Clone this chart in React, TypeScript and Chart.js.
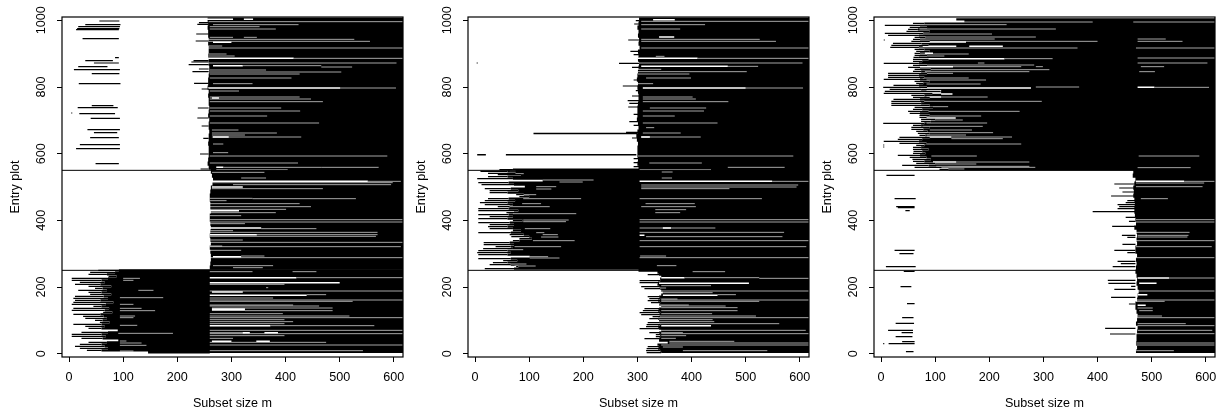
import React, { useEffect, useRef } from "react";
import { Chart, registerables } from "chart.js";

Chart.register(...registerables);

type Row = [number, number, number];
type Edge = [number, number];

const xTickValues = [0, 100, 200, 300, 400, 500, 600];
const yTickValues = [0, 200, 400, 600, 800, 1000];
const xLabel = "Subset size m";
const yLabel = "Entry plot";
const XMAX = 617;

// ---------- panel 1 ----------
const p1Dividers: Row[] = [[550, -13, XMAX], [250, -13, XMAX]];
const p1Band: Edge[] = [
  [1002,256],[990,257],[978,256],[966,257],[954,257],[942,258],[930,257],[918,258],[906,258],[894,257],[882,258],[870,258],[858,259],[846,259],[834,258],[822,257],[810,257],[798,256],[786,258],[774,257],[762,258],[750,258],[738,259],[726,258],[714,257],[702,259],[690,258],[678,258],[666,259],[654,258],[642,258],[630,257],[618,258],[606,258],[594,258],[582,257],[570,256],[558,258],[546,262],[534,264],[522,266],[510,265],[498,262],[486,261],[474,260],[462,260],[450,261],[438,261],[426,262],[414,260],[402,260],[390,261],[378,262],[366,261],[354,260],[342,261],[330,262],[318,260],[306,261],[294,262],[282,262],[270,261],[258,260]
];
const p1Block: Edge[] = [
  [250,92],[244,85],[238,70],[232,88],[226,72],[220,60],[214,66],[208,58],[202,78],[196,62],[190,70],[184,60],[178,78],[172,64],[166,72],[160,58],[154,82],[148,68],[142,60],[136,74],[130,66],[124,80],[118,58],[112,64],[106,70],[100,62],[94,75],[88,60],[82,66],[76,60],[70,90],[64,72],[58,60],[52,68],[46,62],[40,91],[34,70],[28,60],[22,66],[16,72],[10,60],[4,146]
];
const p1Spikes: Row[] = [
  [250,54,92],[244,39,85],[238,36,70],[232,73,88],[226,5,72],[220,5,60],[214,20,66],[208,11,58],[202,36,78],[196,48,62],[190,17,70],[184,36,60],[178,39,78],[172,11,64],[166,8,72],[160,11,58],[154,8,82],[148,5,68],[142,45,60],[136,8,74],[130,5,66],[124,63,80],[118,8,58],[112,26,64],[106,30,70],[100,48,62],[94,57,75],[88,8,60],[82,30,66],[76,36,60],[64,23,72],[58,5,60],[52,5,68],[46,23,62],[34,36,70],[28,20,60],[22,11,66],[16,20,72],[10,33,60]
];
const p1Thin: Row[] = [
  [998,56,93],[987,30,95],[981,17,94],[975,15,93],[972,13,92],[945,25,92],[888,85,92],[879,30,81],[872,46,92],[861,17,71],[852,9,94],[840,42,93],[810,18,95],[744,42,82],[738,16,90],[722,4,6],[720,19,85],[706,40,94],[672,34,94],[663,46,89],[648,39,92],[627,20,94],[615,13,94],[570,49,92],
  [993,240,258],[988,237,258],[959,235,258],[938,234,258],[879,230,258],[875,226,258],[867,221,258],[854,240,258],[846,228,258],[811,231,258],[794,245,258],[737,238,258],[707,237,258],[683,245,258],[646,248,258],[599,242,258],[554,243,258]
];
const p1GapThin: Row[] = [
  [996,258,617],[987,266,424],[981,260,352],[974,260,382],[949,260,303],[949,323,347],[943,257,527],[937,257,556],[923,257,283],[917,257,617],[899,257,291],[893,257,306],[886,415,617],[872,257,605],[864,321,466],[860,466,523],[851,260,364],[845,260,503],[839,260,426],[827,260,411],[810,266,339],[797,501,604],[788,260,314],[770,260,426],[764,260,447],[756,260,469],[737,260,392],[728,260,427],[713,260,366],[692,260,462],[671,264,313],[662,264,384],[656,264,325],[650,264,429],[629,266,285],[603,266,294],[593,260,588],[572,260,423],[559,285,466],[559,466,572],[552,272,404],
  [544,264,361],[527,318,364],[517,552,613],[513,264,598],[507,303,595],[495,264,469],[466,260,339],[465,339,530],[459,260,291],[450,260,426],[441,260,447],[433,260,401],[423,260,382],[414,260,318],[402,260,617],[395,260,617],[390,260,325],[375,355,457],[369,260,303],[364,260,570],[357,347,570],[352,260,567],[341,260,321],[334,260,617],[323,260,283],[321,260,613],[310,260,318],[293,318,361],[288,260,617],[264,266,377],[258,303,358],
  [246,413,457],[246,260,339],[228,420,617],[208,260,398],[198,364,368],[188,260,617],[177,439,475],[167,260,377],[161,260,617],[157,260,524],[146,260,414],[143,260,462],[137,264,487],[129,325,487],[120,260,395],[113,260,518],[108,260,617],[102,260,398],[96,260,414],[90,260,398],[84,372,564],[70,260,617],[63,260,325],[60,260,617],[54,260,398],[46,260,303],[34,260,475],[26,260,617],[9,260,543],
  [226,100,131],[220,100,119],[190,128,156],[168,94,174],[148,94,119],[136,94,134],[129,94,159],[113,94,122],[108,94,119],[85,94,126],[61,91,192],[38,94,106],[32,94,134],[25,94,143],[8,94,119]
];
const p1GapWide: Row[] = [
  [1003,255,303],[1003,323,340],[934,266,300],[886,257,415],[864,266,321],[797,257,501],[767,264,277],[650,266,295],[559,272,285],[517,264,552],[500,264,321],[429,260,314],[377,260,355],[357,260,347],[291,266,318],[228,260,420],[213,260,500],[185,264,321],[175,260,439],[134,264,325],[131,264,325],[84,260,372],[63,321,334],[63,361,386],[37,264,300],[37,346,371],[0,260,617]
];

// ---------- panel 2 ----------
const p2Dividers: Row[] = [[550, -13, XMAX], [250, -13, XMAX]];
const p2Band: Edge[] = [
  [1002,303],[990,302],[978,300],[966,302],[954,301],[942,303],[930,302],[918,304],[906,301],[894,302],[882,301],[870,303],[858,302],[846,301],[834,300],[822,299],[810,301],[798,300],[786,301],[774,302],[762,302],[750,301],[738,300],[726,300],[714,300],[702,299],[690,301],[678,302],[666,300],[654,298],[642,299],[630,301],[618,300],[606,300],[594,300],[582,301],[570,300],[558,302]
];
const p2Block: Edge[] = [
  [552,70],[547,60],[541,75],[537,85],[531,60],[525,70],[519,125],[513,62],[507,72],[501,92],[495,66],[489,80],[483,60],[477,90],[471,100],[465,62],[459,74],[453,60],[447,70],[441,64],[435,62],[429,80],[423,72],[417,62],[411,70],[405,60],[399,88],[393,64],[387,72],[381,60],[375,70],[369,85],[363,66],[357,90],[351,100],[345,105],[339,82],[333,64],[327,72],[321,66],[315,70],[309,60],[303,66],[297,60],[291,101],[285,66],[279,78],[273,60],[267,66],[261,80],[255,72],
  [249,302],[243,337],[237,340],[231,344],[225,342],[219,342],[213,338],[207,337],[201,340],[195,342],[189,344],[183,347],[177,344],[171,340],[165,342],[159,338],[153,342],[147,340],[141,344],[135,340],[129,338],[123,342],[117,340],[111,342],[105,338],[99,340],[93,340],[87,342],[81,338],[75,340],[69,344],[63,340],[57,342],[51,342],[45,340],[39,340],[33,356],[27,337],[21,340],[15,338],[9,342],[3,344]
];
const p2Spikes: Row[] = [
  [552,45,70],[547,10,60],[541,24,75],[537,42,85],[531,24,60],[525,4,70],[513,6,62],[507,12,72],[495,18,66],[489,27,80],[483,27,60],[477,76,90],[471,82,100],[465,24,62],[459,18,74],[453,9,60],[447,18,70],[441,42,64],[435,6,62],[429,6,80],[423,58,72],[417,6,62],[411,27,70],[405,6,60],[399,70,88],[393,6,64],[387,27,72],[381,24,60],[375,27,70],[369,70,85],[363,6,66],[357,64,90],[351,67,100],[345,82,105],[339,70,82],[333,16,64],[327,16,72],[321,38,66],[315,15,70],[309,6,60],[303,4,66],[297,6,60],[285,6,66],[279,52,78],[273,33,60],[267,27,66],[261,76,80],[255,18,72],
  [237,319,340],[219,304,342],[213,304,338],[201,307,340],[195,313,342],[171,319,340],[165,322,342],[159,319,338],[153,325,342],[135,313,340],[129,310,338],[123,304,342],[117,307,340],[111,328,342],[105,322,338],[93,319,340],[87,317,342],[81,316,338],[75,304,340],[63,322,340],[57,334,342],[51,334,342],[45,313,340],[21,319,340],[15,317,338],[9,316,342],[3,317,344]
];
const p2Thin: Row[] = [
  [872,3,5],[661,108,300],[660,108,300],[596,57,298],[597,57,298],[596,4,20],[597,4,20],
  [999,297,303],[989,294,303],[941,283,303],[907,287,303],[897,293,303],[871,266,303],[859,290,303],[821,293,303],[803,273,303],[789,297,303],[773,290,303],[759,282,303],[751,285,303],[740,283,303],[718,293,303],[696,285,303],[685,293,303],[664,279,303],[647,290,303],[585,293,303],[573,293,303],[561,293,303]
];
const p2GapThin: Row[] = [
  [997,307,617],[987,307,425],[974,307,379],[943,307,526],[937,307,556],[917,307,617],[892,334,350],[886,411,617],[872,301,605],[862,467,523],[853,301,344],[846,301,502],[839,301,396],[827,316,399],[810,301,329],[797,500,606],[770,310,402],[764,310,408],[756,310,468],[737,323,427],[728,310,423],[713,310,369],[692,310,448],[678,316,331],[662,310,380],[650,307,417],[593,301,588],[572,322,419],[559,467,572],[552,304,436],
  [545,345,365],[527,345,364],[517,549,617],[506,307,597],[500,307,594],[495,307,470],[465,304,530],[450,315,406],[441,307,408],[432,333,390],[423,333,379],[402,304,617],[395,304,617],[377,304,444],[364,304,571],[351,316,568],[339,304,617],[321,304,612],[293,305,353],[288,304,617],[264,336,372],
  [549,64,75],[540,39,90],[521,125,219],[515,156,199],[501,113,150],[494,113,141],[477,76,113],[465,89,196],[450,87,122],[441,42,138],[420,70,187],[401,89,173],[396,89,168],[375,92,139],[363,113,128],[357,125,153],[350,122,154],[339,107,184],[321,73,159],[312,39,89],[291,101,135],[287,101,156],[269,42,95],[263,73,112],
  [246,402,462],[228,387,525],[226,525,617],[204,344,436],[197,322,353],[188,344,617],[183,347,439],[177,448,482],[164,344,374],[161,344,617],[157,344,525],[146,340,395],[143,344,463],[138,344,485],[129,344,485],[120,344,438],[113,334,519],[108,334,617],[102,340,439],[96,340,442],[90,340,562],[70,344,611],[63,344,384],[60,344,617],[54,344,390],[46,344,371],[37,359,479],[32,359,617],[26,344,617],[20,347,384],[9,384,540]
];
const p2GapWide: Row[] = [
  [1002,329,369],[950,340,368],[886,301,411],[862,307,467],[797,310,500],[650,307,323],[517,304,549],[355,304,313],[377,347,362],[228,344,387],[211,340,506],[175,347,448],[84,344,436],[0,317,617]
];

// ---------- panel 3 ----------
const p3Dividers: Row[] = [[550, -13, XMAX], [250, -13, XMAX], [553, 417, XMAX]];
const p3Block: Edge[] = [
  [1003,139],[997,154],[991,80],[985,72],[979,85],[973,68],[967,90],[961,78],[955,70],[949,82],[943,72],[937,90],[931,75],[925,88],[919,70],[913,80],[907,90],[901,72],[895,85],[889,70],[883,88],[877,76],[871,70],[865,85],[859,72],[853,92],[847,74],[841,85],[835,70],[829,80],[823,72],[817,90],[811,78],[805,70],[799,85],[793,74],[787,110],[781,95],[775,80],[769,90],[763,72],[757,80],[751,74],[745,90],[739,96],[733,76],[727,88],[721,72],[715,90],[709,84],[703,100],[697,92],[691,80],[685,74],[679,90],[673,78],[667,86],[661,90],[655,82],[649,90],[643,76],[637,70],[631,84],[625,80],[619,74],[613,88],[607,76],[601,82],[595,72],[589,84],[583,92],[577,80],[571,100],[565,88],[559,112],[553,125]
];
const p3Spikes: Row[] = [
  [991,59,80],[985,7,72],[979,53,85],[973,50,68],[967,47,90],[961,7,78],[955,13,70],[949,62,82],[943,59,72],[937,56,90],[931,22,75],[925,19,88],[919,17,70],[913,62,80],[907,65,90],[901,62,72],[895,62,85],[889,60,70],[883,59,88],[877,59,76],[871,5,70],[865,59,85],[859,50,72],[853,62,92],[847,59,74],[841,13,85],[835,13,70],[829,13,80],[823,5,72],[817,62,90],[811,65,78],[805,23,70],[799,4,85],[793,16,74],[787,7,110],[781,5,95],[775,56,80],[769,59,90],[763,23,72],[757,19,80],[751,19,74],[745,19,90],[739,62,96],[733,59,76],[727,50,88],[721,53,72],[715,71,90],[709,71,84],[703,74,100],[697,74,92],[691,4,80],[685,59,74],[679,56,90],[673,56,78],[667,65,86],[661,68,90],[655,71,82],[649,34,90],[643,31,76],[637,5,70],[631,34,84],[625,65,80],[619,59,74],[613,59,88],[607,60,76],[601,59,82],[595,31,72],[589,53,84],[583,58,92],[577,59,80],[571,65,100],[565,39,88],[559,62,112],[553,108,125]
];
const p3Band: Edge[] = [
  [546,466],[534,465],[522,470],[510,468],[498,466],[486,467],[474,466],[462,468],[450,469],[438,468],[426,468],[414,469],[402,470],[390,471],[378,468],[366,472],[354,473],[342,472],[330,473],[318,470],[306,470],[294,473],[282,471],[270,472],[258,471],[246,470],[234,472],[222,473],[210,472],[198,474],[186,476],[174,474],[162,473],[150,470],[138,470],[126,472],[114,474],[102,473],[90,471],[78,474],[66,473],[54,472],[42,472],[30,471],[18,473],[6,471]
];
const p3Thin: Row[] = [
  [941,5,7],[626,4,6],[620,4,6],
  [535,10,62],[465,25,64],[441,28,62],[438,31,62],[429,45,53],[310,25,62],[300,34,60],[261,9,64],[247,42,62],[201,36,56],[150,48,62],[108,39,60],[91,27,61],[70,13,59],[63,38,59],[51,27,58],[36,39,62],[30,14,62],[30,4,6],[6,46,60],
  [509,431,470],[497,440,470],[485,446,470],[473,425,470],[459,455,470],[453,452,470],[447,437,470],[441,440,470],[435,437,470],[426,391,470],[409,452,470],[397,458,470],[382,427,470],[355,445,470],[349,455,470],[328,446,470],[310,431,470],[303,455,470],[277,437,470],[270,443,470],[261,428,470],[220,419,470],[211,420,470],[202,462,470],[193,431,470],[169,425,470],[149,458,470],[76,414,470],[59,423,470]
];
const p3GapThin: Row[] = [
  [995,65,391],[995,466,617],[987,62,232],[974,71,323],[959,68,205],[950,71,286],[944,71,210],[944,474,526],[937,71,400],[937,474,557],[917,65,363],[917,471,617],[899,65,162],[893,65,117],[885,228,317],[887,474,617],[872,179,191],[872,474,603],[866,65,283],[861,133,259],[861,286,299],[861,480,523],[852,65,311],[846,81,274],[846,477,506],[841,81,133],[827,77,162],[821,84,194],[809,84,184],[800,286,366],[799,505,606],[770,111,197],[757,77,297],[741,96,124],[727,71,256],[713,71,185],[701,76,151],[692,84,196],[682,77,188],[671,90,168],[663,77,207],[656,84,157],[645,130,225],[650,130,242],[629,84,259],[593,93,177],[593,476,588],[575,139,274],[569,71,176],[562,102,274],[559,124,285],[554,124,154],[558,474,572],
  [517,560,617],[512,471,597],[501,471,594],[465,480,530],[402,471,617],[395,471,617],[364,471,570],[355,474,568],[350,474,566],[339,471,617],[321,471,611],[288,471,617],[227,532,617],[188,474,617],[161,471,617],[157,471,524],[137,474,502],[129,477,502],[113,474,519],[108,471,617],[90,474,563],[84,474,617],[70,474,612],[60,471,617],[32,471,617],[26,471,617],[9,471,541]
];
const p3GapWide: Row[] = [
  [935,71,157],[922,77,139],[922,163,225],[901,81,96],[885,65,228],[861,71,133],[797,71,277],[799,474,505],[789,84,111],[782,84,111],[779,111,132],[770,84,111],[707,84,138],[650,84,130],[575,96,139],[556,71,124],
  [517,471,560],[227,474,532],[211,477,509],[177,474,492],[145,474,489],[0,471,617]
];

const segments = (rows: Row[]) =>
  rows.flatMap(([y, a, b]) => [{ x: a, y }, { x: b, y }, { x: NaN, y: NaN }]);
const edgeRows = (rows: Edge[]): Row[] => rows.map(([y, a]) => [y, a, XMAX] as Row);

const boxPlugin = {
  id: "rbox",
  afterDatasetsDraw(chart: any) {
    const { ctx, chartArea: a } = chart;
    ctx.save();
    ctx.strokeStyle = "#000";
    ctx.lineWidth = 1.2;
    ctx.strokeRect(a.left, a.top, a.right - a.left, a.bottom - a.top);
    ctx.restore();
  },
};

const FONT = "'Liberation Sans', Arial, sans-serif";
const FONT_SIZE = 12.6;

type PanelProps = {
  left: number;
  dividers: Row[];
  band: Edge[];
  block: Edge[];
  spikes: Row[];
  thin: Row[];
  gapThin: Row[];
  gapWide: Row[];
};

function Panel({ left, dividers, band, block, spikes, thin, gapThin, gapWide }: PanelProps) {
  const ref = useRef<HTMLCanvasElement | null>(null);
  useEffect(() => {
    const line = (data: Row[], color: string, width: number) => ({
      data: segments(data),
      borderColor: color,
      borderWidth: width,
      pointRadius: 0,
      showLine: true,
      spanGaps: false,
      tension: 0,
    });
    const chart = new Chart(ref.current as HTMLCanvasElement, {
      type: "scatter",
      data: {
        datasets: [
          line(dividers, "#000", 1),
          line(thin, "#000", 1.2),
          line(spikes, "#000", 1.1),
          line(gapWide, "#fff", 1.5),
          line(gapThin, "#fff", 0.65),
          line(edgeRows(block), "#000", 2.2),
          line(edgeRows(band), "#000", 4.3),
        ] as any,
      },
      options: {
        animation: false,
        responsive: false,
        events: [],
        layout: { autoPadding: false, padding: { top: 17, right: 7, left: 0, bottom: 0 } },
        plugins: { legend: { display: false }, tooltip: { enabled: false } },
        scales: {
          x: {
            type: "linear",
            min: -13,
            max: XMAX,
            afterBuildTicks: (s: any) => { s.ticks = xTickValues.map((value) => ({ value })); },
            afterFit: (s: any) => { s.height = 57; s.paddingLeft = 0; s.paddingRight = 0; },
            grid: { drawOnChartArea: false, drawTicks: true, tickLength: 5, tickColor: "#000" },
            border: { display: false },
            ticks: { color: "#000", font: { family: FONT, size: FONT_SIZE }, padding: 8, maxRotation: 0, minRotation: 0, autoSkip: false, callback: (v: any) => String(v) },
            title: { display: true, text: xLabel, color: "#000", font: { family: FONT, size: FONT_SIZE }, padding: { top: 0, bottom: 3 } },
          },
          y: {
            type: "linear",
            min: -10,
            max: 1010,
            afterBuildTicks: (s: any) => { s.ticks = yTickValues.map((value) => ({ value })); },
            afterFit: (s: any) => { s.width = 62; s.paddingTop = 0; s.paddingBottom = 0; },
            grid: { drawOnChartArea: false, drawTicks: true, tickLength: 5, tickColor: "#000" },
            border: { display: false },
            ticks: { color: "#000", font: { family: FONT, size: FONT_SIZE }, padding: 1, minRotation: 90, maxRotation: 90, crossAlign: "center", autoSkip: false, callback: (v: any) => String(v) },
            title: { display: true, text: yLabel, color: "#000", font: { family: FONT, size: FONT_SIZE }, padding: { top: 8, bottom: 8 } },
          },
        },
      } as any,
      plugins: [boxPlugin],
    });
    return () => chart.destroy();
  }, []);
  return (
    <canvas
      ref={ref}
      width={410}
      height={414}
      style={{ position: "absolute", left, top: 0, width: 410, height: 414, display: "block" }}
    />
  );
}

export default function App() {
  return (
    <div style={{ position: "absolute", left: 0, top: 0, width: 1229, height: 414, background: "#fff", overflow: "hidden" }}>
      <Panel left={0} dividers={p1Dividers} band={p1Band} block={p1Block} spikes={p1Spikes} thin={p1Thin} gapThin={p1GapThin} gapWide={p1GapWide} />
      <Panel left={406} dividers={p2Dividers} band={p2Band} block={p2Block} spikes={p2Spikes} thin={p2Thin} gapThin={p2GapThin} gapWide={p2GapWide} />
      <Panel left={812} dividers={p3Dividers} band={p3Band} block={p3Block} spikes={p3Spikes} thin={p3Thin} gapThin={p3GapThin} gapWide={p3GapWide} />
    </div>
  );
}
